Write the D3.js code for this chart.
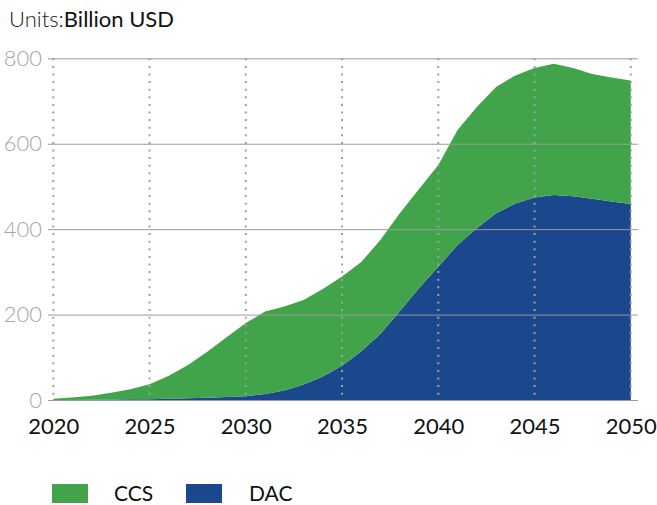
<!DOCTYPE html>
<html>
<head>
<meta charset="utf-8">
<script src="https://cdn.jsdelivr.net/npm/d3@7"></script>
<style>
  html, body { margin: 0; padding: 0; background: #fff; }
  svg { display: block; font-family: Lato, "Open Sans", sans-serif; }
</style>
</head>
<body>
<svg id="chart" width="657" height="505"></svg>
<script>
// Annual investment, billion USD
const years = d3.range(2020, 2051);
const dacValues = [0, 0, 0.5, 1, 1.5, 2, 3, 4, 5, 7, 9, 14, 22, 36, 55, 80, 114, 155, 208, 262, 312,
                   363, 402, 437, 460, 474, 480, 477, 471, 465, 459];
const ccsValues = [3, 6, 9.5, 16, 23.5, 35, 54, 78, 108, 140, 171, 193, 197, 198, 205, 209, 209, 220, 229, 232, 238,
                   269, 284, 296, 300, 303, 307, 300, 292, 290, 289];
const seriesNames = ["DAC", "CCS"];
const seriesColors = { CCS: "#42a44a", DAC: "#1b488c" };
const yTicks = [0, 200, 400, 600, 800];
const xTicks = [2020, 2025, 2030, 2035, 2040, 2045, 2050];
const legendOrder = ["CCS", "DAC"];

const svg = d3.select("#chart");

const x = d3.scaleLinear().domain([2020, 2050]).range([53.3, 630.8]);
const y = d3.scaleLinear().domain([0, 800]).range([400, 58.3]);

const rows = years.map((yr, i) => ({ year: yr, DAC: dacValues[i], CCS: ccsValues[i] }));
const stacked = d3.stack().keys(seriesNames)(rows);

const area = d3.area()
  .x(d => x(d.data.year))
  .y0(d => y(d[0]))
  .y1(d => y(d[1]));

svg.append("g").selectAll("path")
  .data(stacked)
  .join("path")
  .attr("d", area)
  .attr("fill", d => seriesColors[d.key]);

// horizontal grid lines drawn over the areas
const yAxis = d3.axisLeft(y).tickValues(yTicks).tickSize(-(638 - 48)).tickPadding(6);
const gy = svg.append("g").attr("transform", "translate(48,0)").call(yAxis);
gy.select(".domain").remove();
gy.selectAll(".tick line").attr("stroke", "#9a9a9a").attr("stroke-width", 1);
gy.selectAll(".tick text")
  .attr("x", -6)
  .attr("fill", "#a6a6a6")
  .style("font-size", "22px")
  .style("font-family", "Lato, sans-serif")
  .style("font-weight", 300);

// dotted vertical guides
svg.append("g").selectAll("line")
  .data(xTicks)
  .join("line")
  .attr("x1", d => x(d)).attr("x2", d => x(d))
  .attr("y1", y(800)).attr("y2", y(0))
  .attr("stroke", "#a0a0a0")
  .attr("stroke-width", 2)
  .attr("stroke-dasharray", "2,5.6");

// x axis labels
const xAxis = d3.axisBottom(x).tickValues(xTicks).tickFormat(d3.format("d")).tickSize(0).tickPadding(18);
const gx = svg.append("g").attr("transform", `translate(0,${y(0)})`).call(xAxis);
gx.select(".domain").remove();
gx.selectAll(".tick text")
  .attr("fill", "#111")
  .style("font-size", "22px")
  .style("font-family", "Lato, sans-serif");

// unit label
const title = svg.append("text").attr("x", 9).attr("y", 27)
  .style("font-size", "22px");
title.append("tspan").attr("fill", "#222").style("font-weight", 300).text("Units:");
title.append("tspan").attr("fill", "#111").text("Billion USD");

// legend
const legendX = { CCS: 52, DAC: 186 };
const lg = svg.append("g").selectAll("g")
  .data(legendOrder)
  .join("g")
  .attr("transform", d => `translate(${legendX[d]},484)`);
lg.append("rect").attr("width", 36).attr("height", 19).attr("fill", d => seriesColors[d]);
lg.append("text").attr("x", d => d === "CCS" ? 62 : 63).attr("y", 17)
  .attr("fill", "#111").style("font-size", "21px").text(d => d);
</script>
</body>
</html>
